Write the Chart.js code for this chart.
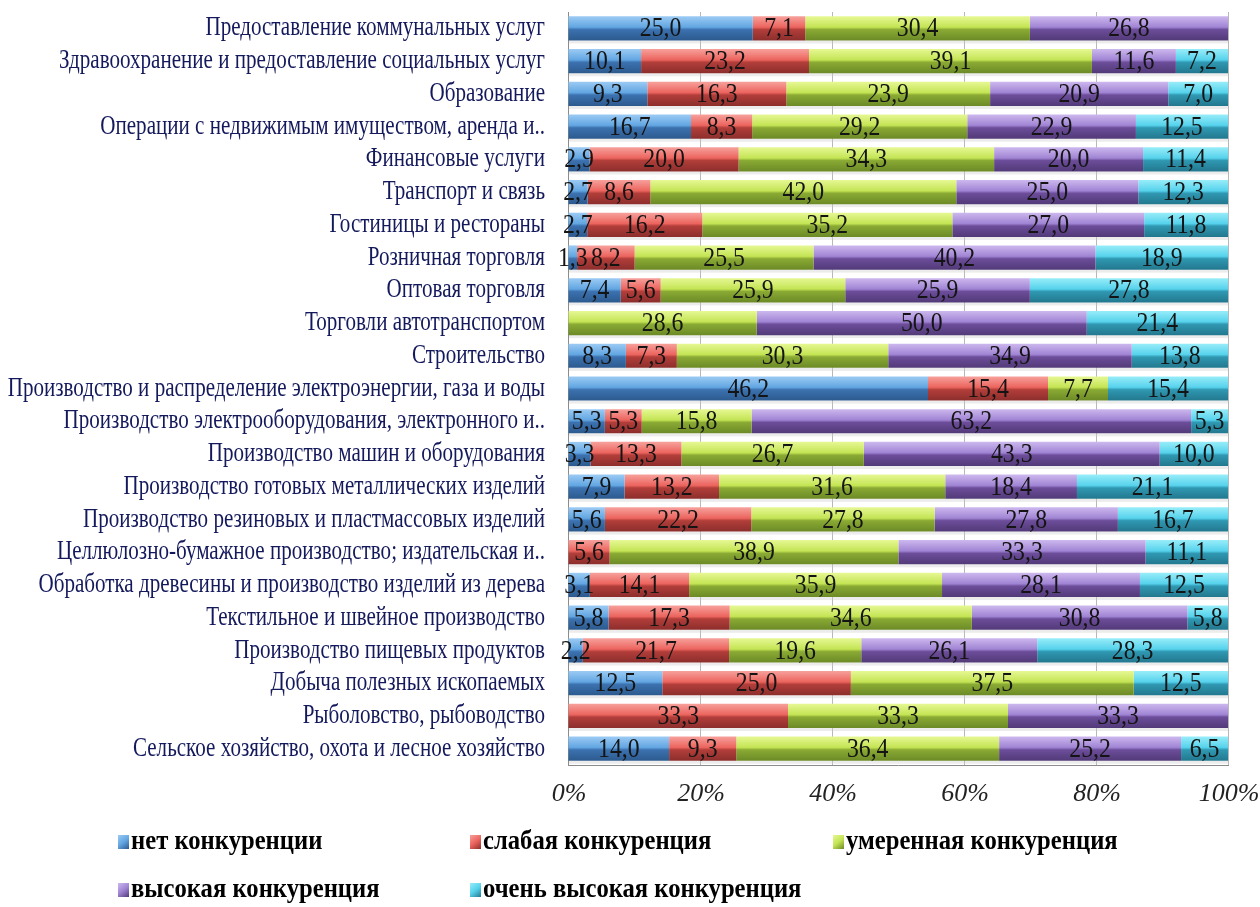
<!DOCTYPE html>
<html>
<head>
<meta charset="utf-8">
<script src="https://cdn.jsdelivr.net/npm/chart.js@4.4.1/dist/chart.umd.min.js"></script>
<style>
html,body{margin:0;padding:0;background:#fff;}
canvas{display:block;}
</style>
</head>
<body>
<canvas id="c" width="1260" height="907"></canvas>
<script>
const categories = [
  "Предоставление коммунальных услуг",
  "Здравоохранение и предоставление социальных услуг",
  "Образование",
  "Операции с недвижимым имуществом, аренда и..",
  "Финансовые услуги",
  "Транспорт и связь",
  "Гостиницы и рестораны",
  "Розничная торговля",
  "Оптовая торговля",
  "Торговли автотранспортом",
  "Строительство",
  "Производство и распределение электроэнергии, газа и воды",
  "Производство электрооборудования, электронного и..",
  "Производство машин и оборудования",
  "Производство готовых металлических изделий",
  "Производство резиновых и пластмассовых изделий",
  "Целлюлозно-бумажное производство; издательская и..",
  "Обработка древесины и производство изделий из дерева",
  "Текстильное и швейное производство",
  "Производство пищевых продуктов",
  "Добыча полезных ископаемых",
  "Рыболовство, рыбоводство",
  "Сельское хозяйство, охота и лесное хозяйство"
];
const seriesNames = ["нет конкуренции", "слабая конкуренция", "умеренная конкуренция", "высокая конкуренция", "очень высокая конкуренция"];
const noCompetition   = [25.0, 10.1, 9.3, 16.7, 2.9, 2.7, 2.7, 1.3, 7.4, 0, 8.3, 46.2, 5.3, 3.3, 7.9, 5.6, 0, 3.1, 5.8, 2.2, 12.5, 0, 14.0];
const weakCompetition = [7.1, 23.2, 16.3, 8.3, 20.0, 8.6, 16.2, 8.2, 5.6, 0, 7.3, 15.4, 5.3, 13.3, 13.2, 22.2, 5.6, 14.1, 17.3, 21.7, 25.0, 33.3, 9.3];
const moderateCompetition = [30.4, 39.1, 23.9, 29.2, 34.3, 42.0, 35.2, 25.5, 25.9, 28.6, 30.3, 7.7, 15.8, 26.7, 31.6, 27.8, 38.9, 35.9, 34.6, 19.6, 37.5, 33.3, 36.4];
const highCompetition = [26.8, 11.6, 20.9, 22.9, 20.0, 25.0, 27.0, 40.2, 25.9, 50.0, 34.9, 0, 63.2, 43.3, 18.4, 27.8, 33.3, 28.1, 30.8, 26.1, 0, 33.3, 25.2];
const veryHighCompetition = [0, 7.2, 7.0, 12.5, 11.4, 12.3, 11.8, 18.9, 27.8, 21.4, 13.8, 15.4, 5.3, 10.0, 21.1, 16.7, 11.1, 12.5, 5.8, 28.3, 12.5, 0, 6.5];
const xTicks = [0, 20, 40, 60, 80, 100];

const rawSeries = [noCompetition, weakCompetition, moderateCompetition, highCompetition, veryHighCompetition];
const palettes = [
  ["#9ccbf4", "#62a6e2", "#3c72b0", "#2c5a8e"],
  ["#f7a19c", "#ec645e", "#b23e3a", "#8c2e2c"],
  ["#e6f894", "#c4e454", "#8aaa34", "#6c8a26"],
  ["#cdb8ee", "#a084d4", "#6c4d9a", "#523a78"],
  ["#98edf9", "#56d2ec", "#3098b2", "#22788e"]
];
const totals = categories.map((_, i) => rawSeries.reduce((s, arr) => s + arr[i], 0));
const BAR_PCT = 0.74;

function barGradient(p) {
  return function (ctx) {
    const chart = ctx.chart;
    const area = chart.chartArea;
    if (!area || ctx.dataIndex === undefined) return p[1];
    const y = chart.scales.y.getPixelForValue(ctx.dataIndex);
    const h = (area.bottom - area.top) / categories.length * BAR_PCT;
    const g = chart.ctx.createLinearGradient(0, y - h / 2, 0, y + h / 2);
    g.addColorStop(0, p[0]);
    g.addColorStop(0.45, p[1]);
    g.addColorStop(0.55, p[2]);
    g.addColorStop(1, p[3]);
    return g;
  };
}

const datasets = rawSeries.map((arr, k) => ({
  label: seriesNames[k],
  data: arr.map((v, i) => v / totals[i] * 100),
  raw: arr,
  backgroundColor: barGradient(palettes[k]),
  borderWidth: 0,
  barPercentage: BAR_PCT,
  categoryPercentage: 1.0
}));

function drawSquashed(ctx, text, x, y, sx, align) {
  ctx.save();
  ctx.translate(x, y);
  ctx.scale(sx, 1);
  ctx.textAlign = align;
  ctx.fillText(text, 0, 0);
  ctx.restore();
}

const customPlugin = {
  id: 'custom',
  beforeDatasetsDraw(chart) {
    const ctx = chart.ctx;
    const ys = chart.scales.y;
    const area = chart.chartArea;
    ctx.save();
    const step = (area.bottom - area.top) / categories.length;
    categories.forEach((c, i) => {
      const y = ys.getPixelForTick(i) + step * BAR_PCT / 2;
      ctx.fillStyle = 'rgba(200,200,200,0.35)';
      ctx.fillRect(area.left + 1, y, area.right - area.left - 1, 3);
    });
    ctx.font = '27px "Liberation Serif", "Times New Roman", serif';
    ctx.fillStyle = '#14195c';
    ctx.textBaseline = 'middle';
    categories.forEach((c, i) => {
      drawSquashed(ctx, c, 545, ys.getPixelForTick(i), 0.78, 'right');
    });
    ctx.restore();
  },
  afterDatasetsDraw(chart) {
    const ctx = chart.ctx;
    ctx.save();
    ctx.font = '27px "Liberation Serif", "Times New Roman", serif';
    ctx.fillStyle = '#141414';
    ctx.textBaseline = 'middle';
    chart.data.datasets.forEach((ds, k) => {
      const meta = chart.getDatasetMeta(k);
      meta.data.forEach((el, i) => {
        const v = ds.raw[i];
        if (!v) return;
        const cx = (el.x + el.base) / 2;
        drawSquashed(ctx, v.toFixed(1).replace('.', ','), cx, el.y + 1, 0.88, 'center');
      });
    });
    ctx.restore();
  },
  afterDraw(chart) {
    const ctx = chart.ctx;
    const pos = [[118, 842], [470, 842], [833, 842], [118, 890], [470, 890]];
    ctx.save();
    ctx.font = 'bold 28px "Liberation Serif", "Times New Roman", serif';
    ctx.textBaseline = 'middle';
    seriesNames.forEach((n, k) => {
      const [x, y] = pos[k];
      const p = palettes[k];
      const g = ctx.createLinearGradient(x, y - 7, x + 11, y + 7);
      g.addColorStop(0, p[0]);
      g.addColorStop(0.5, p[1]);
      g.addColorStop(1, p[3]);
      ctx.fillStyle = g;
      ctx.fillRect(x, y - 7, 11, 14);
      ctx.fillStyle = '#000';
      drawSquashed(ctx, n, x + 13, y, 0.88, 'left');
    });
    ctx.restore();
  }
};

new Chart(document.getElementById('c'), {
  type: 'bar',
  data: { labels: categories, datasets },
  plugins: [customPlugin],
  options: {
    indexAxis: 'y',
    responsive: false,
    animation: false,
    devicePixelRatio: 1,
    layout: { padding: { top: 12, right: 32, bottom: 92, left: 0 } },
    plugins: { legend: { display: false }, tooltip: { enabled: false } },
    scales: {
      x: {
        stacked: true,
        min: 0,
        max: 100,
        afterBuildTicks(scale) { scale.ticks = xTicks.map(v => ({ value: v })); },
        afterFit(scale) { scale.height = 50; scale.paddingLeft = 0; scale.paddingRight = 0; },
        ticks: {
          padding: 14,
          labelOffset: 1,
          color: '#222',
          font: { family: '"Liberation Serif", "Times New Roman", serif', size: 26, style: 'italic' },
          callback: v => v + '%'
        },
        grid: { color: '#b8b8b8', drawTicks: false },
        border: { color: '#8c8c8c' }
      },
      y: {
        stacked: true,
        afterFit(scale) { scale.width = 568; },
        ticks: { display: false },
        grid: { display: false, drawTicks: false },
        border: { color: '#8c8c8c' }
      }
    }
  }
});
</script>
</body>
</html>
